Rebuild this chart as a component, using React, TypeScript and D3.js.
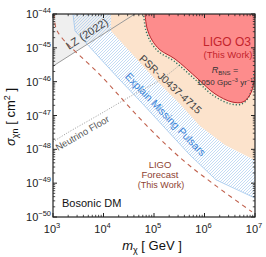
import React from "react";
import * as d3 from "d3";

// ---- data (log10 values) ----
const xTickExps = [3, 4, 5, 6, 7];
const yTickExps = [-44, -45, -46, -47, -48, -49, -50];

// LZ (2022) limit line endpoints [log10 m, log10 sigma]
const lzLine: [number, number][] = [[3, -45.54], [5, -43.64]];

// PSR-J0437-4715 exclusion boundary
const psrEdge: [number, number][] = [
  [4.149, -44], [4.149, -44.5], [4.584, -45.21], [5.02, -45.92], [5.515, -46.66],
  [5.91, -47.31], [6.406, -47.87], [7, -48.32],
];

// Lower edge of "Explain Missing Pulsars" band
const bandLower: [number, number][] = [
  [3.396, -44], [3.436, -44.5], [3.871, -45.21], [4.307, -45.92], [4.78, -46.66],
  [5.218, -47.37], [5.713, -48.17], [6.228, -48.9], [7, -49.44],
];

// LIGO O3 exclusion boundary
const ligoO3: [number, number][] = [
  [4.822, -44], [4.861, -44.414], [4.96, -44.77], [5.119, -45.06], [5.416, -45.33],
  [5.871, -45.92], [6.208, -46.36], [6.545, -46.6], [6.762, -46.6], [6.9, -46.39],
  [6.98, -46.01], [7, -45.66],
];

// Neutrino floor
const nuFloor: [number, number][] = [
  [3, -47.78], [3.277, -47.52], [3.931, -46.96], [4.584, -46.39], [5.119, -45.95],
  [5.574, -45.42], [5.97, -44.83], [6.564, -44.18], [6.743, -44.0],
];

// LIGO forecast
const ligoForecast: [number, number][] = [
  [3.02, -44], [3.059, -44.414], [3.178, -44.709], [3.931, -45.8], [4.842, -47.28],
  [5.574, -48.32], [6.228, -49.08], [6.941, -49.85],
];

const FONT = "'Liberation Sans', Arial, Helvetica, sans-serif";

export default function App() {
  const L = 53, R = 255, T = 14, B = 217;
  const x = d3.scaleLog().domain([1e3, 1e7]).range([L, R]);
  const y = d3.scaleLog().domain([1e-50, 1e-44]).range([B, T]);
  const px = (p: [number, number]): [number, number] => [x(10 ** p[0]), y(10 ** p[1])];

  const lin = d3.line<[number, number]>().x((d) => px(d)[0]).y((d) => px(d)[1]);
  const smooth = d3
    .line<[number, number]>()
    .x((d) => px(d)[0])
    .y((d) => px(d)[1])
    .curve(d3.curveCatmullRom.alpha(0.5));

  // polygons
  const grayPoly: [number, number][] = [...lzLine, [5, -44], [3, -44]];
  const psrPoly: [number, number][] = [...psrEdge, [7, -44]];
  const bandPoly: [number, number][] = [...psrEdge, ...[...bandLower].reverse()];
  const ligoPoly: [number, number][] = [...ligoO3, [7, -44]];

  // ticks
  const majorX = xTickExps.map((e) => 10 ** e);
  const minorX: number[] = [];
  for (let e = 3; e < 7; e++) for (let k = 2; k <= 9; k++) minorX.push(k * 10 ** e);
  const majorY = yTickExps.map((e) => 10 ** e);
  const minorY: number[] = [];
  for (let e = -50; e < -44; e++) for (let k = 2; k <= 9; k++) minorY.push(k * 10 ** e);

  const axisColor = "#222";

  return (
    <svg width={266} height={257} style={{ position: "absolute", left: 0, top: 0 }} fontFamily={FONT}>
      <defs>
        <clipPath id="plot">
          <rect x={L} y={T} width={R - L} height={B - T} />
        </clipPath>
        <pattern id="hatch" patternUnits="userSpaceOnUse" width={3} height={3}>
          <path d="M-1,1 L1,-1 M0,3 L3,0 M2,4 L4,2" stroke="#a9cbef" strokeWidth={0.7} />
        </pattern>
      </defs>
      <rect x={L} y={T} width={R - L} height={B - T} fill="#fff" />
      <g clipPath="url(#plot)">
        <path d={lin(grayPoly) + "Z"} fill="#efefef" />
        <path d={lin(psrPoly) + "Z"} fill="#fce3cc" />
        <path d={lin(bandPoly) + "Z"} fill="url(#hatch)" />
        <path d={lin(bandLower)!} fill="none" stroke="#9fc5ec" strokeWidth={0.8} />
        <path d={lin(lzLine)!} fill="none" stroke="#9a9a9a" strokeWidth={1} />
        <path d={smooth(nuFloor)!} fill="none" stroke="#9a9a9a" strokeWidth={1} strokeDasharray="1,1.6" />
        <path d={smooth(ligoForecast)!} fill="none" stroke="#c0604c" strokeWidth={1.1} strokeDasharray="4.5,4" />
        <path d={smooth(ligoPoly) + "Z"} fill="#fd8c8c" />
        <path
          d={smooth(ligoO3)!}
          fill="none"
          stroke="#2f6f5f"
          strokeWidth={1.4}
          strokeDasharray="1.2,2"
          transform="translate(-1.2,2)"
        />
        <path d={smooth(ligoO3)!} fill="none" stroke="#b8232c" strokeWidth={1} />
      </g>

      {/* region labels */}
      <text x={89} y={37} fontSize={11} fill="#444" textAnchor="middle" transform="rotate(-33,89,37)">
        LZ (2022)
      </text>
      <text x={168} y={87} fontSize={10.5} fill="#444" textAnchor="middle" transform="rotate(43,168,87)">
        PSR-J0437-4715
      </text>
      <text x={163} y={117} fontSize={10.5} fill="#3a84d8" textAnchor="middle" transform="rotate(46,163,117)">
        Explain Missing Pulsars
      </text>
      <text x={84} y={136} fontSize={9.5} fill="#555" textAnchor="middle" transform="rotate(-30,84,136)">
        Neutrino Floor
      </text>
      <text x={227} y={46} fontSize={12} fill="#c4242c" textAnchor="middle">LIGO O3</text>
      <text x={228} y={58} fontSize={9.5} fill="#c4242c" textAnchor="middle">(This Work)</text>
      <text x={225} y={73} fontSize={9} fill="#333" textAnchor="middle">
        <tspan fontStyle="italic">R</tspan>
        <tspan fontSize={6} dy={1.5}>BNS</tspan>
        <tspan dy={-1.5}> =</tspan>
      </text>
      <text x={225} y={85} fontSize={8} fill="#333" textAnchor="middle">
        1050 Gpc<tspan fontSize={5.5} dy={-3}>−3</tspan>
        <tspan dy={3}> yr</tspan>
        <tspan fontSize={5.5} dy={-3}>−1</tspan>
      </text>
      <text x={160} y={168} fontSize={9.5} fill="#8e4232" textAnchor="middle">LIGO</text>
      <text x={160} y={178} fontSize={9.5} fill="#8e4232" textAnchor="middle">Forecast</text>
      <text x={161} y={188} fontSize={9} fill="#8e4232" textAnchor="middle">(This Work)</text>
      <text x={62} y={207} fontSize={11} fill="#111">Bosonic DM</text>

      {/* frame and ticks */}
      <rect x={L} y={T} width={R - L} height={B - T} fill="none" stroke={axisColor} strokeWidth={1.2} />
      {majorX.map((v, i) => (
        <g key={"mx" + i}>
          <line x1={x(v)} x2={x(v)} y1={B} y2={B - 4} stroke={axisColor} />
          <line x1={x(v)} x2={x(v)} y1={T} y2={T + 4} stroke={axisColor} />
        </g>
      ))}
      {minorX.map((v, i) => (
        <g key={"nx" + i}>
          <line x1={x(v)} x2={x(v)} y1={B} y2={B - 2.2} stroke={axisColor} strokeWidth={0.8} />
          <line x1={x(v)} x2={x(v)} y1={T} y2={T + 2.2} stroke={axisColor} strokeWidth={0.8} />
        </g>
      ))}
      {majorY.map((v, i) => (
        <g key={"my" + i}>
          <line x1={L} x2={L + 4} y1={y(v)} y2={y(v)} stroke={axisColor} />
          <line x1={R} x2={R - 4} y1={y(v)} y2={y(v)} stroke={axisColor} />
        </g>
      ))}
      {minorY.map((v, i) => (
        <g key={"ny" + i}>
          <line x1={L} x2={L + 2.2} y1={y(v)} y2={y(v)} stroke={axisColor} strokeWidth={0.8} />
          <line x1={R} x2={R - 2.2} y1={y(v)} y2={y(v)} stroke={axisColor} strokeWidth={0.8} />
        </g>
      ))}

      {/* tick labels */}
      {xTickExps.map((e) => (
        <text key={"xl" + e} x={x(10 ** e) - 1} y={233} fontSize={11} fill="#222" textAnchor="middle">
          10<tspan fontSize={7.5} dy={-5}>{e}</tspan>
        </text>
      ))}
      {yTickExps.map((e) => (
        <text key={"yl" + e} x={51} y={y(10 ** e) + 4} fontSize={11} fill="#222" textAnchor="end">
          10<tspan fontSize={7.5} dy={-5}>{"−" + Math.abs(e)}</tspan>
        </text>
      ))}

      {/* axis titles */}
      <text x={152} y={250} fontSize={13} fill="#111" textAnchor="middle">
        <tspan fontStyle="italic">m</tspan>
        <tspan fontSize={9} dy={3}>χ</tspan>
        <tspan dy={-3}> [ GeV ]</tspan>
      </text>
      <text x={0} y={0} fontSize={13} fill="#111" textAnchor="middle" transform="translate(15,117) rotate(-90)">
        <tspan fontStyle="italic">σ</tspan>
        <tspan fontSize={9} dy={3}>χn</tspan>
        <tspan dy={-3}> [ cm</tspan>
        <tspan fontSize={9} dy={-5}>2</tspan>
        <tspan dy={5}> ]</tspan>
      </text>
    </svg>
  );
}
